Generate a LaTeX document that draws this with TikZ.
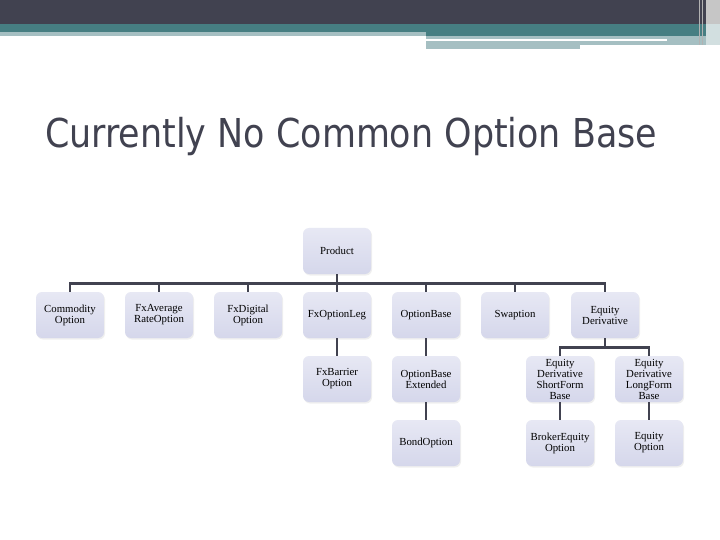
\documentclass[tikz,border=0pt]{standalone}
\usepackage{fontspec}
\setmainfont{Liberation Serif}
\newfontfamily\titlefont{DejaVu Sans}
\usetikzlibrary{shadows}
\definecolor{slate}{RGB}{65,66,80}
\definecolor{teal}{RGB}{70,126,130}
\definecolor{paleteal}{RGB}{165,191,194}
\definecolor{boxtop}{RGB}{231,232,244}
\definecolor{boxbot}{RGB}{213,215,235}
\begin{document}
\begin{tikzpicture}[x=1pt,y=-1pt,
    classbox/.style={rounded corners=6pt,top color=boxtop,bottom color=boxbot,
      minimum width=68pt,minimum height=46pt,inner sep=1pt,align=center,
      font=\fontsize{10.8}{11}\selectfont,
      drop shadow={opacity=0.12,shadow xshift=1pt,shadow yshift=-1.5pt}},
    link/.style={slate,line width=2.6pt}]
  \useasboundingbox (0,0) rectangle (720,540);
  \fill[white] (0,0) rectangle (720,540);
  %banner
  \fill[slate] (0,0) rectangle (720,24);
  \fill[teal] (0,24) rectangle (720,36);
  \fill[paleteal] (0,32) rectangle (426,36);
  \fill[paleteal] (426,36) rectangle (707,45);
  \fill[white] (426,39) rectangle (667,41);
  \fill[paleteal] (426,45) rectangle (580,49);
  \fill[gray!45] (706,0) rectangle (720,24);
  \fill[paleteal!50] (706,24) rectangle (720,45);
  \draw[gray!60,very thin] (699,0) -- (699,45);
  \draw[gray!60,very thin] (702,0) -- (702,45);
  %title
  \node[anchor=base west,inner sep=0pt,xscale=0.877,text=slate,
    font=\fontsize{39.8}{44}\titlefont] (title) at (45,148)
    {Currently No Common Option Base};
  %boxes
  \node[classbox] (product) at (337,251) {Product};
  \node[classbox] (commodity) at (70,315) {Commodity\\Option};
  \node[classbox] (fxaverage) at (159,315) {FxAverage\\RateOption};
  \node[classbox] (fxdigital) at (248,315) {FxDigital\\Option};
  \node[classbox] (fxleg) at (337,315) {FxOptionLeg};
  \node[classbox] (optbase) at (426,315) {OptionBase};
  \node[classbox] (swaption) at (515,315) {Swaption};
  \node[classbox] (eqderiv) at (605,315) {Equity\\Derivative};
  \node[classbox] (fxbarrier) at (337,379) {FxBarrier\\Option};
  \node[classbox] (optext) at (426,379) {OptionBase\\Extended};
  \node[classbox] (eqshort) at (560,379) {Equity\\Derivative\\ShortForm\\Base};
  \node[classbox] (eqlong) at (649,379) {Equity\\Derivative\\LongForm\\Base};
  \node[classbox] (bond) at (426,443) {BondOption};
  \node[classbox] (broker) at (560,443) {BrokerEquity\\Option};
  \node[classbox] (eqoption) at (649,443) {Equity\\Option};
  %links
  \foreach \c in {commodity,fxaverage,fxdigital,fxleg,optbase,swaption,eqderiv}
    \draw[link] (product.south) -- ++(0,9) -| (\c.north);
  \foreach \c in {eqshort,eqlong}
    \draw[link] (eqderiv.south) -- ++(0,9) -| (\c.north);
  \draw[link] (fxleg) -- (fxbarrier);
  \draw[link] (optbase) -- (optext);
  \draw[link] (optext) -- (bond);
  \draw[link] (eqshort) -- (broker);
  \draw[link] (eqlong) -- (eqoption);
\end{tikzpicture}
\end{document}
